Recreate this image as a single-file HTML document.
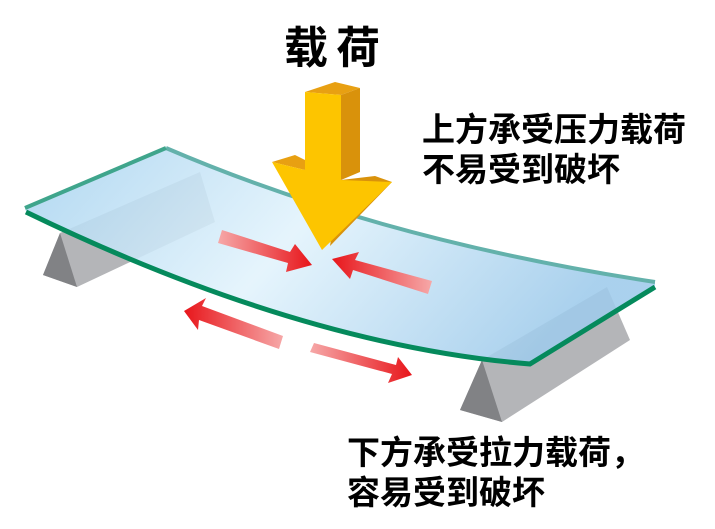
<!DOCTYPE html>
<html><head><meta charset="utf-8"><style>
body{margin:0;width:715px;height:529px;background:#fff;overflow:hidden;position:relative;font-family:"Liberation Sans","Noto Sans CJK SC",sans-serif;}
.t{position:absolute;font-weight:bold;color:#000;white-space:nowrap;}
</style></head><body>
<svg width="715" height="529" style="position:absolute;left:0;top:0">
<defs>
<linearGradient id="gl" x1="0" y1="0" x2="1" y2="0.3">
<stop offset="0" stop-color="#a6d2ef"/><stop offset="0.5" stop-color="#e2f3fc"/><stop offset="1" stop-color="#9fcbeb"/></linearGradient>
<linearGradient id="ra" x1="0" y1="0" x2="1" y2="0"><stop offset="0" stop-color="#f6a8a8"/><stop offset="1" stop-color="#e8161b"/></linearGradient>
<linearGradient id="rb" x1="1" y1="0" x2="0" y2="0"><stop offset="0" stop-color="#f6a8a8"/><stop offset="1" stop-color="#e8161b"/></linearGradient>
</defs>
<polygon points="60,233 200,172 215,222 77,287 43,275" fill="#b4b5b8"/>
<polygon points="60,233 43,275 77,287" fill="#818285"/>
<polygon points="482,360 607,287 630,340 502,422 460,410" fill="#b4b5b8"/>
<polygon points="482,360 460,410 502,422" fill="#818285"/>
<path d="M25,208 L166,148 Q380,240 655,282 L655,290 L530,365 Q300,345 27,215 Z" fill="url(#gl)" opacity="0.88"/>
<path d="M166,148 Q380,240 655,282" fill="none" stroke="#63b1ab" stroke-width="4"/>
<path d="M25,208 L166,148" fill="none" stroke="#3fa58c" stroke-width="4"/>
<path d="M26,212 Q300,345 530,364 L655,287" fill="none" stroke="#058a5c" stroke-width="5"/>
<polygon points="222,230 290,252 295,244 312,265 286,272 288,263 218,243" fill="url(#ra)"/>
<polygon points="432,281 355,260 359,252 332,259 350,279 353,270 428,294" fill="url(#rb)"/>
<polygon points="283,336 202,306 206,298 184,311 198,330 199,320 279,349" fill="url(#rb)"/>
<polygon points="310,352 392,374 388,383 412,375 398,357 396,365 314,343" fill="url(#ra)"/>
<polygon points="305,92 335,82 360,88 341,95" fill="#e8a012"/>
<polygon points="341,95 360,88 360,172 341,180" fill="#d9920b"/>
<polygon points="272,162 295,155 305,160 305,170" fill="#e8a012"/>
<polygon points="341,180 375,176 392,182 330,246" fill="#d9920b"/>
<polygon points="305,92 341,95 341,180 392,182 322,250 272,162 305,170" fill="#fdc500"/>
</svg>
<div class="t" style="left:284px;top:12px;font-size:44px;letter-spacing:8px;">载荷</div>
<div class="t" style="left:422px;top:110px;font-size:33px;line-height:40px;">上方承受压力载荷<br>不易受到破坏</div>
<div class="t" style="left:347px;top:433px;font-size:33px;line-height:40px;">下方承受拉力载荷，<br>容易受到破坏</div>
</body></html>
